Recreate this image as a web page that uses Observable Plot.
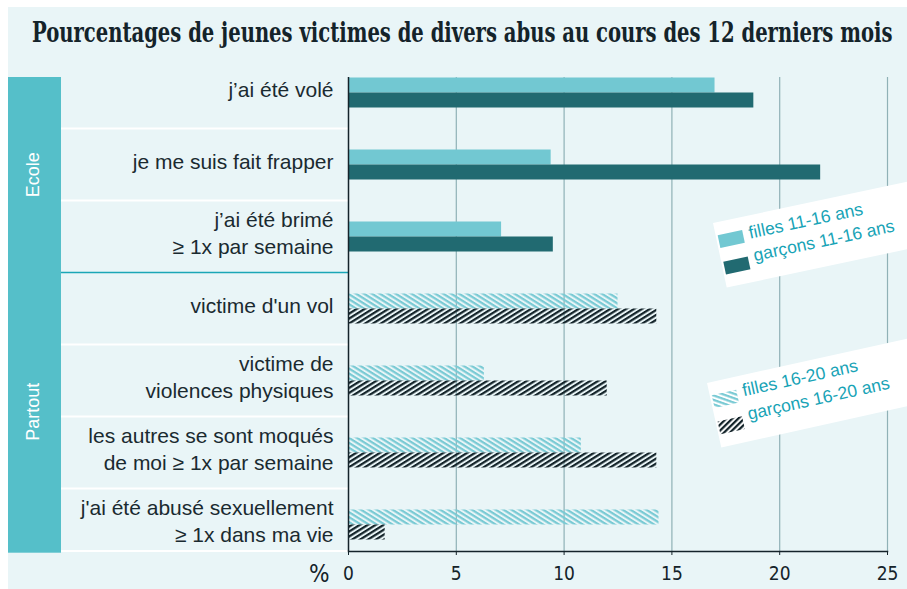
<!DOCTYPE html>
<html>
<head>
<meta charset="utf-8">
<script src="https://cdn.jsdelivr.net/npm/d3@7"></script>
<script src="https://cdn.jsdelivr.net/npm/@observablehq/plot@0.6"></script>
<style>
  html, body { margin: 0; padding: 0; background: #ffffff; }
  #wrap { position: relative; width: 907px; height: 589px; overflow: hidden; background: #ffffff; }
  #panel { position: absolute; left: 8px; top: 7px; width: 899px; height: 582px; background: #e9f5f7; }
  #title { position: absolute; left: 0; top: 0; }
  #chart { position: absolute; left: 0; top: 60px; }
  .legend { position: absolute; transform-origin: 0 0; overflow: visible; }
</style>
</head>
<body>
<svg width="0" height="0" style="position:absolute">
  <defs>
    <pattern id="hatchLight" patternUnits="userSpaceOnUse" width="10" height="4.2" patternTransform="rotate(32)">
      <rect x="0" y="0" width="10" height="2.2" fill="#79cad4"></rect>
    </pattern>
    <pattern id="hatchDark" patternUnits="userSpaceOnUse" width="10" height="4.2" patternTransform="rotate(-32)">
      <rect x="0" y="0" width="10" height="2.2" fill="#132329"></rect>
    </pattern>
  </defs>
</svg>
<div id="wrap">
  <div id="panel"></div>
  <svg id="title" width="907" height="60"></svg>
  <div id="chart"></div>
</div>
<script>
// ---- data ----
const titleText = "Pourcentages de jeunes victimes de divers abus au cours des 12 derniers mois";
const categories = [
  "j’ai été volé",
  "je me suis fait frapper",
  "j’ai été brimé\n≥ 1x par semaine",
  "victime d'un vol",
  "victime de\nviolences physiques",
  "les autres se sont moqués\nde moi ≥ 1x par semaine",
  "j'ai été abusé sexuellement\n≥ 1x dans ma vie"
];
const sections = ["Ecole", "Ecole", "Ecole", "Partout", "Partout", "Partout", "Partout"];
const filles = [17.0, 9.4, 7.1, 12.5, 6.3, 10.8, 14.4];
const garcons = [18.8, 21.9, 9.5, 14.3, 12.0, 14.3, 1.7];
const xTicks = [0, 5, 10, 15, 20, 25];
const gridTicks = [5, 10, 15, 20, 25];
const axisUnit = "%";
const legendEcole = ["filles 11-16 ans", "garçons 11-16 ans"];
const legendPartout = ["filles 16-20 ans", "garçons 16-20 ans"];

// ---- styles ----
const C = {
  ink: "#14232a",
  label: "#1a2a30",
  light: "#72c8d2",
  dark: "#216a71",
  band: "#55bfc9",
  grid: "#8fb1b6",
  divider: "#1aa6b6",
  legendText: "#17a3b6"
};
const sans = "'Liberation Sans', Arimo, Arial, sans-serif";
const narrow = "'Liberation Sans Narrow', 'DejaVu Sans Condensed', 'Liberation Sans', sans-serif";

// ---- title (scaled horizontally to the reference width) ----
const tsvg = d3.select("#title");
const tText = tsvg.append("text")
  .attr("font-family", "'DejaVu Serif Condensed', 'DejaVu Serif', 'Liberation Serif', serif")
  .attr("font-weight", "bold").attr("font-size", 27)
  .attr("fill", C.ink)
  .text(titleText);
const tLen = tText.node().getComputedTextLength();
tText.attr("transform", `translate(32,42) scale(${861 / tLen},1)`);

// ---- table ----
const rows = categories.flatMap((c, i) => [
  {category: c, section: sections[i], sex: "filles", value: filles[i]},
  {category: c, section: sections[i], sex: "garçons", value: garcons[i]}
]);
const pick = (sec, sex) => rows.filter(d => d.section === sec && d.sex === sex);

const H = 529;
const chart = Plot.plot({
  width: 907,
  height: H,
  marginTop: 17,
  marginBottom: 38,
  marginLeft: 348,
  marginRight: 20,
  style: {background: "transparent", color: C.ink, fontFamily: sans, overflow: "visible"},
  x: {domain: [0, 25], label: null},
  y: {domain: categories, range: [-3.5, 500.5], padding: 0, round: false, label: null},
  marks: [
    Plot.gridX(gridTicks, {stroke: C.grid, strokeOpacity: 1, strokeWidth: 1.2}),
    Plot.barX(pick("Ecole", "filles"), {x: "value", y: "category", fill: C.light, insetTop: 21, insetBottom: 36}),
    Plot.barX(pick("Ecole", "garçons"), {x: "value", y: "category", fill: C.dark, insetTop: 36, insetBottom: 21}),
    Plot.barX(pick("Partout", "filles"), {x: "value", y: "category", fill: "url(#hatchLight)", insetTop: 21, insetBottom: 36}),
    Plot.barX(pick("Partout", "garçons"), {x: "value", y: "category", fill: "url(#hatchDark)", insetTop: 36, insetBottom: 21}),
    Plot.ruleX([0], {stroke: C.ink, strokeWidth: 1.5}),
    Plot.frame({anchor: "bottom", stroke: C.ink, strokeWidth: 1.5}),
    Plot.axisX({ticks: xTicks, tickSize: 4, tickPadding: 11, fontSize: 19, fontFamily: narrow, label: null, stroke: C.ink}),
    Plot.axisY({tickSize: 0, tickPadding: 15, fontSize: 21, lineHeight: 1.27, dy: -5, label: null,
      fill: C.label, stroke: C.label, strokeWidth: 0.35, strokeOpacity: 1}),
    Plot.text([axisUnit], {frameAnchor: "bottom-left", dx: -19, dy: 23, fontSize: 24, fontFamily: narrow,
      textAnchor: "end", lineAnchor: "middle", fill: C.ink})
  ]
});
document.getElementById("chart").appendChild(chart);

// ---- left section band, separators, section labels ----
const svg = d3.select(chart);
const ys = chart.scale("y");
const yTop = 17, yBottom = 491;
const clamp = v => Math.max(yTop, Math.min(yBottom, v));
const deco = svg.insert("g", "g");
deco.append("rect").attr("x", 8).attr("y", yTop).attr("width", 53).attr("height", yBottom - yTop + 1.7).attr("fill", C.band);
for (let i = 1; i < categories.length; i++) {
  const b = clamp(ys.apply(categories[i]));
  const sectionBreak = sections[i] !== sections[i - 1];
  deco.append("line")
    .attr("x1", 61).attr("x2", 348).attr("y1", b).attr("y2", b)
    .attr("stroke", sectionBreak ? C.divider : "#ffffff")
    .attr("stroke-width", sectionBreak ? 1.5 : 2);
}
deco.append("line").attr("x1", 61).attr("x2", 348).attr("y1", yBottom).attr("y2", yBottom).attr("stroke", "#ffffff").attr("stroke-width", 2);
const secNames = Array.from(new Set(sections));
for (const s of secNames) {
  const idx = sections.map((v, i) => v === s ? i : -1).filter(i => i >= 0);
  const y0 = clamp(ys.apply(categories[idx[0]]));
  const y1 = clamp(ys.apply(categories[idx[idx.length - 1]]) + ys.bandwidth);
  const cy = (y0 + y1) / 2;
  deco.append("text")
    .attr("transform", `translate(33,${cy}) rotate(-90)`)
    .attr("text-anchor", "middle").attr("dy", "0.35em")
    .attr("font-family", sans).attr("font-size", 18)
    .attr("fill", "#ffffff")
    .text(s);
}

// ---- legends ----
function makeLegend(labels, fills, left, topPx, angle, textY) {
  const el = d3.select("#wrap").append("svg")
    .attr("class", "legend")
    .attr("width", 240).attr("height", 66)
    .style("left", left + "px").style("top", topPx + "px")
    .style("transform", `rotate(${angle}deg)`);
  el.append("rect").attr("width", 240).attr("height", 66).attr("fill", "#ffffff");
  labels.forEach((lab, i) => {
    el.append("rect").attr("x", 2).attr("y", 13 + i * 27).attr("width", 25).attr("height", 13).attr("fill", fills[i]);
    el.append("text").attr("x", 33).attr("y", textY[i])
      .attr("font-family", sans).attr("font-size", 17.5).attr("fill", C.legendText)
      .text(lab);
  });
}
makeLegend(legendEcole, [C.light, C.dark], 713, 223, -12, [23, 46]);
makeLegend(legendPartout, ["url(#hatchLight)", "url(#hatchDark)"], 707, 383, -12.5, [21, 45]);
</script>
</body>
</html>
